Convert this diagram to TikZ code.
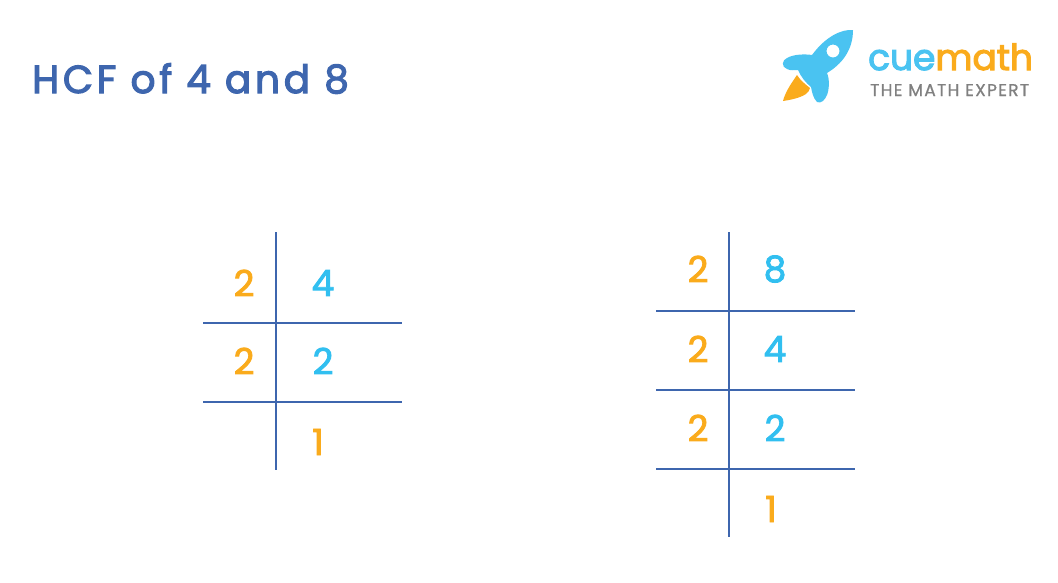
\documentclass[tikz,border=0pt]{standalone}
\usepackage{fontspec}
\setmainfont{Poppins}
\newfontfamily\titlefont[LetterSpace=9.6,FakeBold=3]{Poppins}
\newfontfamily\logofont[FakeBold=3]{Poppins}
\newfontfamily\tagfont[LetterSpace=7.7,FakeBold=1]{Poppins}
\newfontfamily\digitfont[FakeBold=2.5]{Poppins}
\usetikzlibrary{positioning}
\definecolor{rule}{HTML}{3E66AE}
\definecolor{orangeink}{HTML}{FAAB1C}
\definecolor{blueink}{HTML}{31BFF0}
\definecolor{rocket}{HTML}{4AC3F1}
\definecolor{taggray}{HTML}{808080}

\begin{document}
\begin{tikzpicture}[x=1pt,y=-1pt,rule line/.style={draw=rule,line width=1.7pt},
  divisor/.style={text=orangeink,font=\digitfont\fontsize{36}{36}\selectfont,inner sep=0pt},
  dividend/.style={text=blueink,font=\digitfont\fontsize{36}{36}\selectfont,inner sep=0pt}]
  \useasboundingbox (0,0) rectangle (1058,582);
  \node[anchor=base west,inner sep=0pt,text=rule,font=\titlefont\fontsize{39}{39}\selectfont] (title) at (32,93) {HCF of 4 and 8};
  % rocket
  \fill[rocket,even odd rule] (853,30) .. controls (842,29) and (826,36) .. (812,55)
    .. controls (805,54) and (794,54) .. (787,58) .. controls (782,60) and (781,67) .. (787,69)
    .. controls (791,71) and (795,70) .. (798,70) .. controls (801,77) and (806,83) .. (811,87)
    .. controls (812,92) and (813,98) .. (817,102) .. controls (821,104) and (825,100) .. (827,95)
    .. controls (829,90) and (830,80) .. (827,73) .. controls (842,64) and (853,50) .. (853,30) -- cycle
    (833,51) circle (6.5);
  \fill[orangeink] (797,75) .. controls (790,85) and (785,93) .. (783,101) .. controls (790,100) and (800,98) .. (806,94)
    .. controls (808,92) and (810,90) .. (810,88) .. controls (805,84) and (800,80) .. (797,75) -- cycle;
  \node[anchor=base west,inner sep=0pt,font=\logofont\fontsize{36}{36}\selectfont] (logo) at (868,70) {\textcolor{rocket}{cue}\textcolor{orangeink}{math}};
  \node[anchor=base west,inner sep=0pt,text=taggray,font=\tagfont\fontsize{17}{17}\selectfont] (tag) at (870,96) {THE MATH EXPERT};
  % left table
  \node[coordinate] (ltop) at (276,232) {};
  \node[coordinate,below=238pt of ltop] (lbot) {};
  \node[coordinate] (la) at (203,323) {};
  \node[coordinate,right=199pt of la] (lb) {};
  \node[coordinate,below=79pt of la] (lc) {};
  \node[coordinate,right=199pt of lc] (ld) {};
  \draw[rule line] (ltop) -- (lbot);
  \draw[rule line] (la) -- (lb);
  \draw[rule line] (lc) -- (ld);
  \node[divisor] (l2a) at (244,283) {2};
  \node[dividend] (l4) at (323,283) {4};
  \node[divisor] (l2b) at (244,361) {2};
  \node[dividend] (l2c) at (323,361) {2};
  \node[divisor] (l1) at (318,442) {1};
  % right table
  \node[coordinate] (rtop) at (729,232) {};
  \node[coordinate,below=305pt of rtop] (rbot) {};
  \node[coordinate] (ra) at (656,311) {};
  \node[coordinate,right=199pt of ra] (rb) {};
  \node[coordinate,below=79pt of ra] (rc) {};
  \node[coordinate,right=199pt of rc] (rd) {};
  \node[coordinate,below=79pt of rc] (re) {};
  \node[coordinate,right=199pt of re] (rf) {};
  \draw[rule line] (rtop) -- (rbot);
  \draw[rule line] (ra) -- (rb);
  \draw[rule line] (rc) -- (rd);
  \draw[rule line] (re) -- (rf);
  \node[divisor] (r2a) at (698,269) {2};
  \node[dividend] (r8) at (775,269) {8};
  \node[divisor] (r2b) at (698,349) {2};
  \node[dividend] (r4) at (775,349) {4};
  \node[divisor] (r2c) at (698,428) {2};
  \node[dividend] (r2d) at (775,428) {2};
  \node[divisor] (r1) at (771,509) {1};
\end{tikzpicture}
\end{document}
